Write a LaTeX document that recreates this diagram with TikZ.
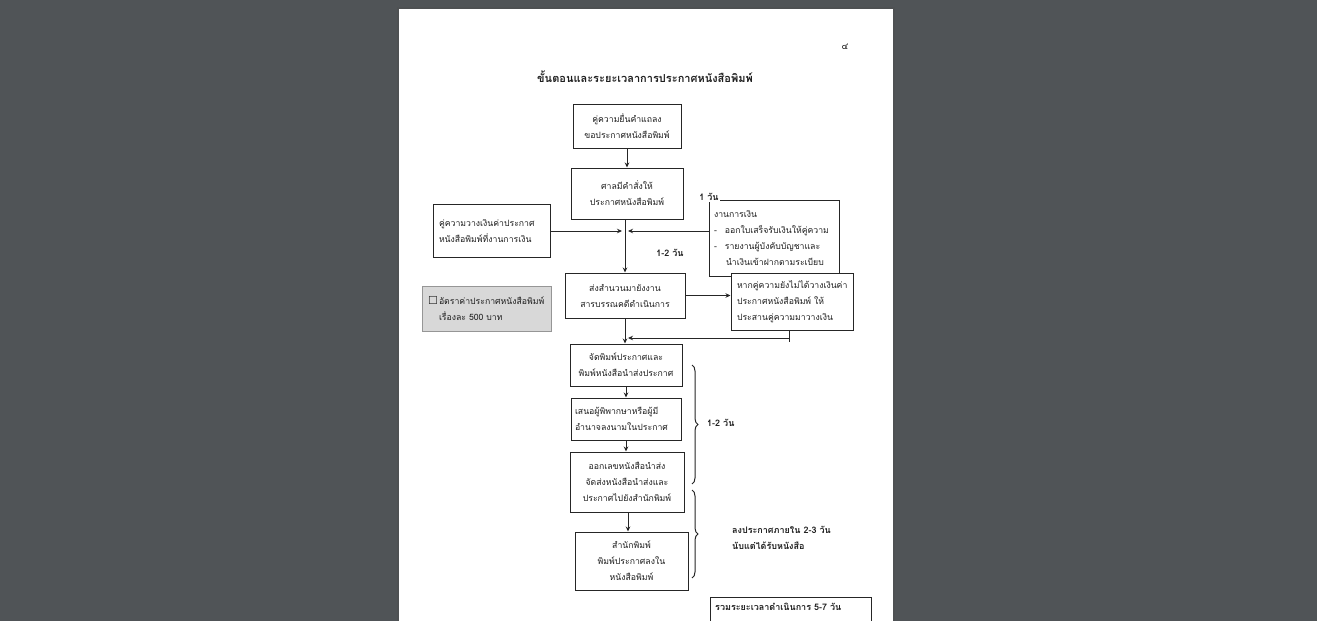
\documentclass[tikz,border=0pt]{standalone}
\usepackage{fontspec}
\newfontfamily\thai[Script=Thai]{Loma}
\newfontfamily\dejavu{DejaVu Sans}
\usetikzlibrary{arrows.meta,decorations.pathreplacing}
\definecolor{bgcol}{RGB}{80,84,87}
\definecolor{txtcol}{RGB}{30,30,30}
\definecolor{graybox}{RGB}{216,216,216}
\definecolor{grayedge}{RGB}{150,150,150}
\tikzset{
  box/.style={draw=black!85, line width=1pt, fill=white, inner sep=0pt, align=center,
    text=txtcol, font=\thai\fontsize{8.7}{16}\selectfont},
  lbox/.style={box, align=left, inner xsep=6pt},
  arr/.style={draw=black!85, line width=1pt, -{Stealth[length=5pt,width=4.5pt]}},
  ln/.style={draw=black!85, line width=1pt},
  lab/.style={text=txtcol, font=\thai\bfseries\fontsize{9}{16}\selectfont, inner sep=1pt},
  brc/.style={draw=black!85, line width=1pt, decorate, decoration={brace, amplitude=6pt}}
}
\begin{document}
\begin{tikzpicture}[x=1pt,y=-1pt]
\useasboundingbox (0,0) rectangle (1317,621);
\fill[bgcol] (0,0) rectangle (1317,621);
\fill[black!70,opacity=0.35] (397,7) rectangle (895,621);
\fill[white] (399,9) rectangle (893,621);

\node[text=txtcol, font=\thai\fontsize{9}{10}\selectfont] (pno) at (845,47) {๔};
\node[text=txtcol, font=\thai\bfseries\fontsize{11}{13}\selectfont] (title) at (645,77) {ขั้นตอนและระยะเวลาการประกาศหนังสือพิมพ์};

\node[box, minimum width=108, minimum height=44] (b1) at (627,126) {คู่ความยื่นคำแถลง\\ขอประกาศหนังสือพิมพ์};
\node[box, minimum width=112, minimum height=51] (b2) at (627,193.5) {ศาลมีคำสั่งให้\\ประกาศหนังสือพิมพ์};
\node[lbox, text width=105, minimum height=53] (lb) at (491.5,231) {คู่ความวางเงินค่าประกาศ\\หนังสือพิมพ์ที่งานการเงิน};
\node[lbox, text width=120, minimum height=76, inner xsep=5pt] (rb) at (774,238) {งานการเงิน\\
-\hspace{8pt}ออกใบเสร็จรับเงินให้คู่ความ\\
-\hspace{8pt}รายงานผู้บังคับบัญชาและ\\
\hspace{12pt}นำเงินเข้าฝากตามระเบียบ};
\node[lab, fill=white] (d1) at (709,197) {1 วัน};
\node[lab] (d2) at (670,253) {1-2 วัน};

\node[box, minimum width=120, minimum height=45] (b4) at (625,295.5) {ส่งสำนวนมายังงาน\\สารบรรณคดีดำเนินการ};
\node[lbox, text width=110, minimum height=57] (b5) at (792,301.5) {หากคู่ความยังไม่ได้วางเงินค่า\\ประกาศหนังสือพิมพ์ ให้\\ประสานคู่ความมาวางเงิน};

\node[box, draw=grayedge, fill=graybox, align=left, text width=117, inner xsep=6pt, minimum height=45] (gb) at (486.5,308.5) {\makebox[11pt][l]{\dejavu\fontsize{11}{10}\selectfont ☐}อัตราค่าประกาศหนังสือพิมพ์\\\hspace{11pt}เรื่องละ 500 บาท};

\node[box, minimum width=112, minimum height=42] (b6) at (626,365) {จัดพิมพ์ประกาศและ\\พิมพ์หนังสือนำส่งประกาศ};
\node[lbox, text width=102, inner xsep=4pt, minimum height=42] (b7) at (626,419) {เสนอผู้พิพากษาหรือผู้มี\\อำนาจลงนามในประกาศ};
\node[box, minimum width=114, minimum height=60] (b8) at (627,482) {ออกเลขหนังสือนำส่ง\\จัดส่งหนังสือนำส่งและ\\ประกาศไปยังสำนักพิมพ์};
\node[box, minimum width=113, minimum height=58] (b9) at (631.5,561) {สำนักพิมพ์\\พิมพ์ประกาศลงใน\\หนังสือพิมพ์};

\node[box, anchor=north west, minimum width=161, minimum height=40] (tot) at (710,597) {};
\node[lab, anchor=north west] (totl) at (714,602) {รวมระยะเวลาดำเนินการ 5-7 วัน};

% connectors
\coordinate (jl) at (622,231);
\coordinate (jr) at (628,231);
\coordinate (r1) at (789,338);
\coordinate (r2) at (628,338);
\draw[arr] (b1.south) -- (b1.south |- b2.north);
\draw[arr] (b4.north |- b2.south) -- (b4.north);
\draw[arr] (lb.east) -- (jl);
\draw[arr] (rb.west |- jr) -- (jr);
\draw[arr] (b4.east) -- (b4.east -| b5.west);
\draw[ln] (r1 |- b5.south) -- ++(0,11);
\draw[arr] (r1) -- (r2);
\draw[arr] (b4.south) -- (b4.south |- b6.north);
\draw[arr] (b6.south) -- (b6.south |- b7.north);
\draw[arr] (b7.south) -- (b7.south |- b8.north);
\draw[arr] (b8.south) ++(1,0) coordinate (b8s) -- (b8s |- b9.north);

% braces
\coordinate (br1a) at (692,365);
\coordinate (br1b) at (692,484);
\coordinate (br2a) at (692,490);
\coordinate (br2b) at (692,578);
\draw[brc] (br1a) -- (br1b);
\draw[brc] (br2a) -- (br2b);
\node[lab, anchor=west] (t12) at (706,423) {1-2 วัน};
\node[lab, anchor=west, align=left] (t23) at (731,538) {ลงประกาศภายใน 2-3 วัน\\นับแต่ได้รับหนังสือ};
\end{tikzpicture}
\end{document}
